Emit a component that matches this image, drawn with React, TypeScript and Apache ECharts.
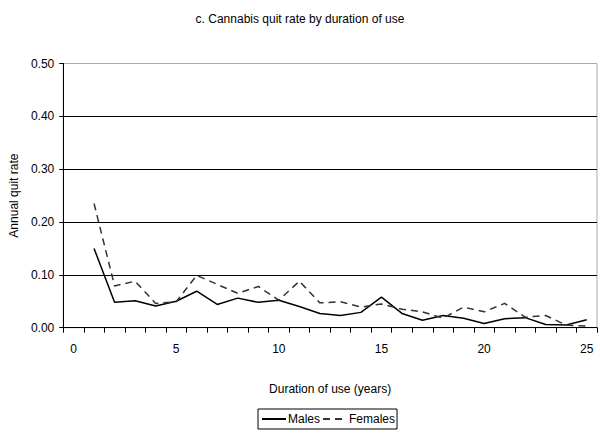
import React, { useEffect, useRef } from "react";
import * as echarts from "echarts";

const categories: string[] = Array.from({ length: 26 }, (_, i) => String(i));
const males: (number | null)[] = [
  null, 0.15, 0.048, 0.051, 0.041, 0.05, 0.069, 0.044, 0.056, 0.048, 0.052,
  0.04, 0.027, 0.023, 0.029, 0.058, 0.027, 0.014, 0.023, 0.018, 0.008,
  0.017, 0.019, 0.006, 0.005, 0.015,
];
const females: (number | null)[] = [
  null, 0.235, 0.079, 0.088, 0.046, 0.049, 0.099, 0.082, 0.065, 0.078, 0.052,
  0.088, 0.047, 0.049, 0.039, 0.045, 0.035, 0.03, 0.018, 0.039, 0.03,
  0.046, 0.02, 0.023, 0.005, 0.003,
];
const FONT = "'Liberation Sans Narrow', 'Arial Narrow', 'Liberation Sans', Arial, sans-serif";

export default function App() {
  const ref = useRef<HTMLDivElement>(null);
  useEffect(() => {
    if (!ref.current) return;
    const chart = echarts.init(ref.current, null, { renderer: "svg" });
    chart.setOption({
      animation: false,
      backgroundColor: "#fff",
      textStyle: { fontFamily: FONT, color: "#000" },
      title: {
        text: "c. Cannabis quit rate by duration of use",
        left: "center",
        top: 8,
        textStyle: { fontFamily: FONT, fontSize: 12, fontWeight: "normal", color: "#000" },
      },
      grid: {
        left: 62,
        right: 3,
        top: 63.5,
        bottom: 112.3,
        show: true,
        borderColor: "#aaa",
        borderWidth: 1,
      },
      legend: {
        left: 258,
        top: 409,
        data: ["Males", "Females"],
        borderColor: "#000",
        borderWidth: 1,
        borderRadius: 0,
        padding: [4, 2, 4, 3],
        itemWidth: 24,
        itemHeight: 10,
        itemGap: 2,
        itemStyle: { color: "rgba(0,0,0,0)", borderColor: "rgba(0,0,0,0)", borderWidth: 0, opacity: 0 },
        textStyle: { fontFamily: FONT, fontSize: 12, color: "#000", padding: [0, 0, 0, -3] },
      },
      xAxis: {
        type: "category",
        data: categories,
        boundaryGap: true,
        name: "Duration of use (years)",
        nameLocation: "middle",
        nameGap: 55,
        nameTextStyle: { fontFamily: FONT, fontSize: 12, color: "#000" },
        axisLine: { lineStyle: { color: "#000", width: 1 } },
        axisTick: { show: true, interval: 0, length: 5, lineStyle: { color: "#000" } },
        axisLabel: { interval: 4, fontFamily: FONT, fontSize: 12, color: "#000", margin: 15 },
        splitLine: { show: false },
      },
      yAxis: {
        type: "value",
        min: 0,
        max: 0.5,
        interval: 0.1,
        name: "Annual quit rate",
        nameLocation: "middle",
        nameGap: 37,
        nameTextStyle: { fontFamily: FONT, fontSize: 12, color: "#000" },
        axisLine: { show: true, lineStyle: { color: "#000", width: 1 } },
        axisTick: { show: true, length: 4, lineStyle: { color: "#000" } },
        axisLabel: {
          fontFamily: FONT,
          fontSize: 12,
          color: "#000",
          margin: 9,
          formatter: (v: number) => v.toFixed(2),
        },
        splitLine: {
          show: true,
          lineStyle: { color: ["#000", "#000", "#000", "#000", "#000", "#aaa"], width: 1 },
        },
      },
      series: [
        {
          name: "Males",
          type: "line",
          data: males,
          symbol: "none",
          connectNulls: false,
          lineStyle: { color: "#000", width: 1.5, type: "solid" },
          itemStyle: { color: "#000" },
        },
        {
          name: "Females",
          type: "line",
          data: females,
          symbol: "none",
          connectNulls: false,
          lineStyle: { color: "#333", width: 1.5, type: [7, 5] },
          itemStyle: { color: "#333" },
        },
      ],
    });
    return () => chart.dispose();
  }, []);
  return (
    <div
      ref={ref}
      style={{ position: "fixed", left: 0, top: 0, width: 600, height: 440, background: "#fff" }}
    />
  );
}
